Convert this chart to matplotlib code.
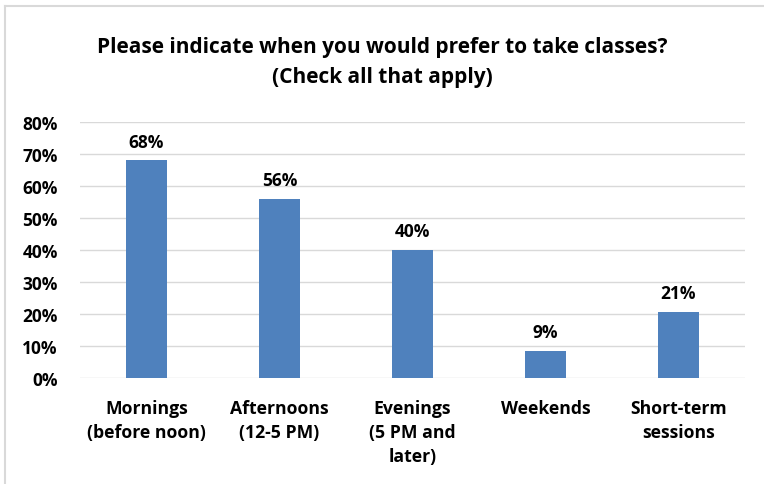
import matplotlib.pyplot as plt
from matplotlib.lines import Line2D

categories = ["Mornings\n(before noon)", "Afternoons\n(12-5 PM)", "Evenings\n(5 PM and\nlater)",
              "Weekends", "Short-term\nsessions"]
values = [0.68, 0.56, 0.40, 0.085, 0.206]
value_labels = ["68%", "56%", "40%", "9%", "21%"]
yticks = [0, 0.1, 0.2, 0.3, 0.4, 0.5, 0.6, 0.7, 0.8]

plt.rcParams['font.family'] = ['Open Sans', 'DejaVu Sans']

fig = plt.figure(figsize=(7.64, 4.85), dpi=100)
ax = fig.add_axes([80/764, 1-379/485, 665/764, 256/485])

x = list(range(len(categories)))
ax.bar(x, values, width=0.31, color="#4F81BD", zorder=3)
for xi, v, lab in zip(x, values, value_labels):
    ax.text(xi, v + 0.03, lab, ha="center", va="bottom", fontsize=12.5, fontweight="bold")

ax.set_xlim(-0.5, len(categories) - 0.5)
ax.set_ylim(0, 0.8)
ax.set_yticks(yticks)
ax.set_yticklabels(["%d%%" % round(t * 100) for t in yticks], fontsize=12.5, fontweight="bold")
ax.set_xticks(x)
ax.set_xticklabels(categories, fontsize=12.7, fontweight="bold", va="top", linespacing=1.45)
ax.tick_params(axis="y", length=0, pad=16)
ax.tick_params(axis="x", length=0, pad=15)
ax.grid(axis="y", color="#D9D9D9", linewidth=1, zorder=0)
for s in ax.spines.values():
    s.set_visible(False)

fig.text(0.5, 1-47/485, "Please indicate when you would prefer to take classes?",
         ha="center", va="center", fontsize=15, fontweight="bold")
fig.text(0.5, 1-77/485, "(Check all that apply)",
         ha="center", va="center", fontsize=15, fontweight="bold")

# chart border (cropped at the right and bottom)
fig.add_artist(Line2D([5/764, 1], [1-7/485, 1-7/485], color="#D9D9D9", linewidth=1.5))
fig.add_artist(Line2D([5/764, 5/764], [0, 1-7/485], color="#D9D9D9", linewidth=1.5))

fig.savefig("out.png", dpi=100)
